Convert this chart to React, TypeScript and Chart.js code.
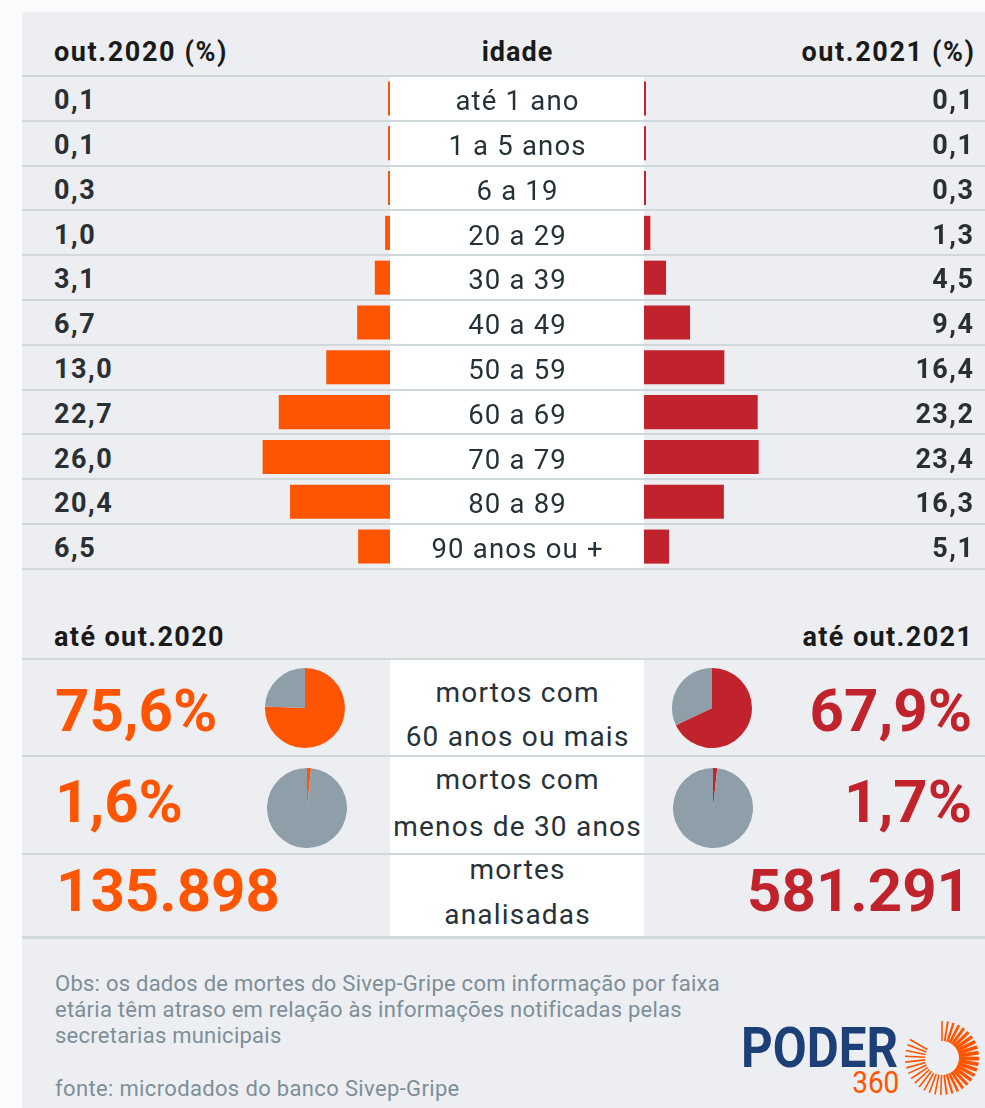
import React, { useEffect, useRef } from "react";
import { Chart, registerables } from "chart.js";

Chart.register(...registerables);

// ---------- data ----------
const ageGroups = [
  "até 1 ano",
  "1 a 5 anos",
  "6 a 19",
  "20 a 29",
  "30 a 39",
  "40 a 49",
  "50 a 59",
  "60 a 69",
  "70 a 79",
  "80 a 89",
  "90 anos ou +",
];
const share2020 = [0.1, 0.1, 0.3, 1.0, 3.1, 6.7, 13.0, 22.7, 26.0, 20.4, 6.5];
const share2021 = [0.1, 0.1, 0.3, 1.3, 4.5, 9.4, 16.4, 23.2, 23.4, 16.3, 5.1];
const periodHeaders = ["out.2020 (%)", "out.2021 (%)"];
const centerHeader = "idade";
const summaryHeaders = ["até out.2020", "até out.2021"];
const summaryLabels = [
  ["mortos com", "60 anos ou mais"],
  ["mortos com", "menos de 30 anos"],
  ["mortes", "analisadas"],
];
const pct60Plus = [75.6, 67.9];
const pctUnder30 = [1.6, 1.7];
const totalDeaths = [135898, 581291];
const noteLines = [
  "Obs: os dados de mortes do Sivep-Gripe com informação por faixa",
  "etária têm atraso em relação às informações notificadas pelas",
  "secretarias municipais",
];
const sourceLine = "fonte: microdados do banco Sivep-Gripe";

// ---------- style ----------
const W = 985;
const H = 1108;
const ORANGE = "#ff5500";
const RED = "#c1232c";
const PIE_GRAY = "#8f9fa9";
const LINE = "#d0d8dc";
const PANEL = "#eceef1";
const TEXT_DARK = "#2a2f33";
const TEXT_MID = "#263238";
const NOTE = "#7d8e98";
const FONT = "Roboto, 'Noto Sans', sans-serif";

const TOP_Y = 76;
const ROW_H = 44.8;
const COL_L = 390;
const COL_R = 644;
const AXIS_MAX = 30;
const BAR_W = 147;

const fmtPct = (v: number) => v.toFixed(1).replace(".", ",");
const fmtInt = (v: number) => String(v).replace(/\B(?=(\d{3})+(?!\d))/g, ".");

type TProps = {
  x: number;
  y: number;
  size: number;
  weight?: number;
  color?: string;
  align?: "left" | "right" | "center";
  ls?: number;
  children: React.ReactNode;
};

function T({ x, y, size, weight = 400, color = TEXT_DARK, align = "left", ls = 0, children }: TProps) {
  const style: React.CSSProperties = {
    position: "absolute",
    top: y - 0.842 * size,
    fontSize: size,
    lineHeight: `${size}px`,
    fontWeight: weight,
    color,
    letterSpacing: ls,
    whiteSpace: "nowrap",
    fontFamily: FONT,
  };
  if (align === "left") style.left = x;
  else if (align === "right") style.right = W - x - ls;
  else {
    style.left = x - 300 + ls / 2;
    style.width = 600;
    style.textAlign = "center";
  }
  return <div style={style}>{children}</div>;
}

function BarSide({ values, color, reverse, left }: { values: number[]; color: string; reverse: boolean; left: number }) {
  const ref = useRef<HTMLCanvasElement>(null);
  useEffect(() => {
    const chart = new Chart(ref.current as HTMLCanvasElement, {
      type: "bar",
      data: {
        labels: ageGroups,
        datasets: [
          {
            data: values,
            backgroundColor: color,
            borderWidth: 0,
            barPercentage: 0.76,
            categoryPercentage: 1,
            minBarLength: 2,
          },
        ],
      },
      options: {
        indexAxis: "y",
        responsive: false,
        animation: false,
        events: [],
        layout: { padding: 0 },
        plugins: { legend: { display: false }, tooltip: { enabled: false } },
        scales: {
          x: { display: false, min: 0, max: AXIS_MAX, reverse },
          y: { display: false },
        },
      },
    });
    return () => chart.destroy();
  }, []);
  return (
    <canvas
      ref={ref}
      width={BAR_W}
      height={Math.round(ROW_H * ageGroups.length)}
      style={{ position: "absolute", left, top: TOP_Y, width: BAR_W, height: Math.round(ROW_H * ageGroups.length) }}
    />
  );
}

function Pie({ value, color, cx, cy }: { value: number; color: string; cx: number; cy: number }) {
  const ref = useRef<HTMLCanvasElement>(null);
  useEffect(() => {
    const chart = new Chart(ref.current as HTMLCanvasElement, {
      type: "pie",
      data: {
        labels: ["a", "b"],
        datasets: [
          {
            data: [value, 100 - value],
            backgroundColor: [color, PIE_GRAY],
            borderWidth: 0,
            hoverOffset: 0,
            offset: 0,
          },
        ],
      },
      options: {
        responsive: false,
        animation: false,
        events: [],
        layout: { padding: 0 },
        plugins: { legend: { display: false }, tooltip: { enabled: false } },
      },
    });
    return () => chart.destroy();
  }, []);
  return (
    <canvas
      ref={ref}
      width={80}
      height={80}
      style={{ position: "absolute", left: cx - 40, top: cy - 40, width: 80, height: 80 }}
    />
  );
}

function Sun({ cx, cy }: { cx: number; cy: number }) {
  const rays: React.ReactNode[] = [];
  const n = 34;
  for (let i = 0; i < n; i++) {
    const a = -90 + (i * 300) / (n - 1);
    const rad = (a * Math.PI) / 180;
    const t = Math.cos(rad);
    const w = 1.6 + 2.2 * Math.max(0, t);
    const r1 = 17;
    const r2 = 37;
    rays.push(
      <line
        key={i}
        x1={cx + r1 * Math.cos(rad)}
        y1={cy + r1 * Math.sin(rad)}
        x2={cx + r2 * Math.cos(rad)}
        y2={cy + r2 * Math.sin(rad)}
        stroke={ORANGE}
        strokeWidth={w}
      />
    );
  }
  return <g>{rays}</g>;
}

export default function App() {
  const topLines = Array.from({ length: ageGroups.length + 1 }, (_, k) => TOP_Y + ROW_H * k);
  const bottomLines = [659, 756, 853.5, 937];
  const bigBase = [732, 823, 912];
  const midBase = [
    [703, 747],
    [790, 837],
    [880, 925],
  ];
  const pieCenters = [
    [305, 708, 712, 708],
    [307, 808, 713, 808],
  ];

  return (
    <div style={{ position: "absolute", left: 0, top: 0, width: W, height: H, background: "#fbfbfb", overflow: "hidden", fontFamily: FONT }}>
      <div style={{ position: "absolute", left: 22, top: 12, width: W - 22, height: H - 12, background: PANEL }} />

      {/* white centre cells, pyramid */}
      {ageGroups.map((_, i) => (
        <div
          key={"wc" + i}
          style={{ position: "absolute", left: COL_L, width: COL_R - COL_L, top: TOP_Y + ROW_H * i + 1, height: ROW_H - 2, background: "#fff" }}
        />
      ))}
      {/* white centre cells, summary */}
      {bottomLines.slice(0, 3).map((y, i) => (
        <div
          key={"wb" + i}
          style={{ position: "absolute", left: COL_L, width: COL_R - COL_L, top: y + 1, height: bottomLines[i + 1] - y - 2, background: "#fff" }}
        />
      ))}

      {/* separator lines */}
      {topLines.map((y, k) => (
        <div key={"tl" + k} style={{ position: "absolute", left: 22, width: W - 22, top: y - 1, height: 2, background: LINE }} />
      ))}
      {bottomLines.map((y, k) => (
        <div key={"bl" + k} style={{ position: "absolute", left: 22, width: W - 22, top: y - 1, height: k === 3 ? 3 : 2, background: LINE }} />
      ))}

      <BarSide values={share2020} color={ORANGE} reverse={true} left={COL_L - BAR_W} />
      <BarSide values={share2021} color={RED} reverse={false} left={COL_R} />

      {/* headers */}
      <T x={54} y={62} size={27} weight={700} color="#1a1a1a" ls={1.6}>{periodHeaders[0]}</T>
      <T x={517} y={62} size={27} weight={700} color="#1a1a1a" align="center" ls={1}>{centerHeader}</T>
      <T x={974} y={62} size={27} weight={700} color="#1a1a1a" align="right" ls={1.6}>{periodHeaders[1]}</T>

      {/* rows */}
      {ageGroups.map((g, i) => {
        const c = TOP_Y + ROW_H * (i + 0.5);
        return (
          <React.Fragment key={"r" + i}>
            <T x={54} y={c + 11.5} size={27} weight={700} ls={1.5}>{fmtPct(share2020[i])}</T>
            <T x={517} y={c + 12} size={27.5} color={TEXT_MID} align="center" ls={1.2}>{g}</T>
            <T x={973} y={c + 11.5} size={27} weight={700} align="right" ls={1.5}>{fmtPct(share2021[i])}</T>
          </React.Fragment>
        );
      })}

      {/* summary headers */}
      <T x={54} y={647} size={27} weight={700} color="#1a1a1a" ls={1.4}>{summaryHeaders[0]}</T>
      <T x={972} y={647} size={27} weight={700} color="#1a1a1a" align="right" ls={1.4}>{summaryHeaders[1]}</T>

      {/* big numbers */}
      <T x={55} y={bigBase[0]} size={60} weight={700} color={ORANGE}>{fmtPct(pct60Plus[0]) + "%"}</T>
      <T x={972} y={bigBase[0]} size={60} weight={700} color={RED} align="right">{fmtPct(pct60Plus[1]) + "%"}</T>
      <T x={55} y={bigBase[1]} size={60} weight={700} color={ORANGE}>{fmtPct(pctUnder30[0]) + "%"}</T>
      <T x={972} y={bigBase[1]} size={60} weight={700} color={RED} align="right">{fmtPct(pctUnder30[1]) + "%"}</T>
      <T x={56} y={bigBase[2]} size={60} weight={700} color={ORANGE}>{fmtInt(totalDeaths[0])}</T>
      <T x={971} y={bigBase[2]} size={60} weight={700} color={RED} align="right">{fmtInt(totalDeaths[1])}</T>

      {/* summary labels */}
      {summaryLabels.map((lines, i) => (
        <React.Fragment key={"sl" + i}>
          <T x={517} y={midBase[i][0]} size={28} color={TEXT_MID} align="center" ls={1.2}>{lines[0]}</T>
          <T x={517} y={midBase[i][1]} size={28} color={TEXT_MID} align="center" ls={1.2}>{lines[1]}</T>
        </React.Fragment>
      ))}

      {/* pies */}
      <Pie value={pct60Plus[0]} color={ORANGE} cx={pieCenters[0][0]} cy={pieCenters[0][1]} />
      <Pie value={pct60Plus[1]} color={RED} cx={pieCenters[0][2]} cy={pieCenters[0][3]} />
      <Pie value={pctUnder30[0]} color={ORANGE} cx={pieCenters[1][0]} cy={pieCenters[1][1]} />
      <Pie value={pctUnder30[1]} color={RED} cx={pieCenters[1][2]} cy={pieCenters[1][3]} />

      {/* notes */}
      {noteLines.map((l, i) => (
        <T key={"n" + i} x={55} y={992 + 26 * i} size={22} color={NOTE} ls={0.25}>{l}</T>
      ))}
      <T x={55} y={1097} size={22} color={NOTE} ls={0.35}>{sourceLine}</T>

      {/* logo */}
      <div
        style={{
          position: "absolute",
          left: 741,
          top: 1067 - (21 + 0.342 * 56),
          fontSize: 56,
          lineHeight: "42px",
          fontWeight: 700,
          color: "#1d3f77",
          fontFamily: FONT,
          transform: "scaleX(0.88)",
          transformOrigin: "left center",
          whiteSpace: "nowrap",
        }}
      >
        PODER
      </div>
      <div
        style={{
          position: "absolute",
          right: W - 899,
          top: 1094 - (12 + 0.342 * 31),
          fontSize: 31,
          lineHeight: "24px",
          fontWeight: 400,
          color: ORANGE,
          fontFamily: FONT,
          transform: "scaleX(0.9)",
          transformOrigin: "right center",
          whiteSpace: "nowrap",
        }}
      >
        360
      </div>
      <svg style={{ position: "absolute", left: 0, top: 0 }} width={W} height={H}>
        <Sun cx={942} cy={1058} />
      </svg>
    </div>
  );
}
